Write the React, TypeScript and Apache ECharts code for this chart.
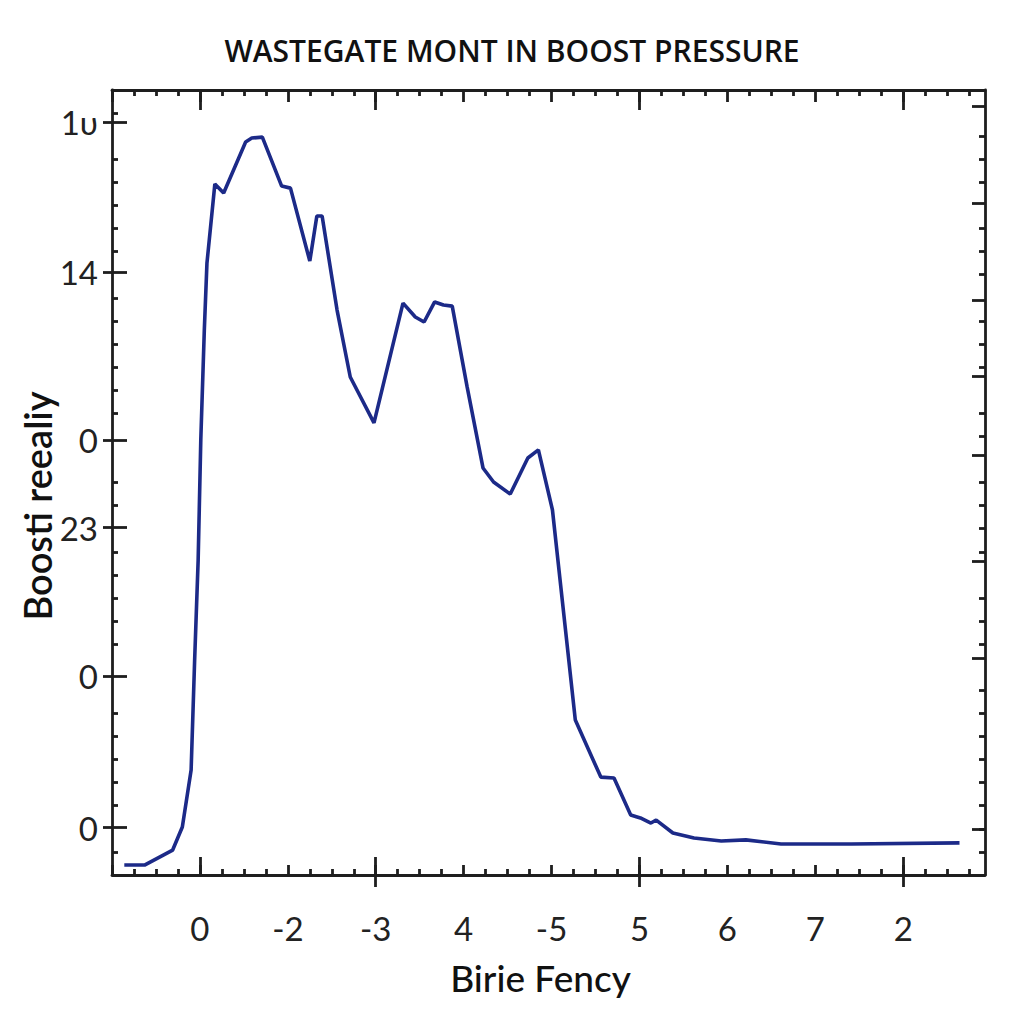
import React, { useEffect, useRef } from "react";
import * as echarts from "echarts";

const titleText = "WASTEGATE MONT IN BOOST PRESSURE";
const xAxisTitle = "Birie Fency";
const yAxisTitle = "Boosti reealiy";

// x tick labels, placed at axis positions 0..8
const xTickLabels = ["0", "-2", "-3", "4", "-5", "5", "6", "7", "2"];
// y tick labels and their positions on the axis
const yTickLabels = ["1υ", "14", "0", "23", "0", "0"];
const yTickValues = [32.6, 26.1, 18.85, 15.05, 8.6, 2.05];

// curve (x position, y value)
const curveX = [
  -0.86, -0.63, -0.31, -0.2, -0.1, -0.06, -0.02, 0.01, 0.05, 0.08, 0.17, 0.27,
  0.52, 0.59, 0.71, 0.93, 1.03, 1.25, 1.33, 1.39, 1.56, 1.71, 1.98, 2.31, 2.45,
  2.55, 2.67, 2.77, 2.87, 3.04, 3.22, 3.34, 3.53, 3.73, 3.85, 4.01, 4.27, 4.56,
  4.71, 4.9, 5.01, 5.13, 5.19, 5.38, 5.62, 5.93, 6.21, 6.61, 7.41, 8.64,
];
const curveY = [
  0.43, 0.43, 1.08, 2.08, 4.55, 9.31, 13.64, 18.84, 23.6, 26.5, 29.93, 29.54,
  31.75, 31.92, 31.96, 29.84, 29.75, 26.59, 28.54, 28.54, 24.47, 21.57, 19.58,
  24.77, 24.17, 23.95, 24.82, 24.69, 24.64, 21.13, 17.63, 17.02, 16.5, 18.06,
  18.41, 15.81, 6.71, 4.24, 4.2, 2.6, 2.47, 2.25, 2.38, 1.82, 1.6, 1.47, 1.52,
  1.34, 1.34, 1.39,
];

// tick positions (axis decoration only)
const xMajorTicks = [-1, 0, 1, 2, 3, 4, 5, 6, 7, 8];
const xMinorTicks = [
  -0.75, -0.5, -0.25, 0.25, 0.5, 0.75, 1.25, 1.5, 1.75, 2.25, 2.5, 2.75, 3.25,
  3.5, 3.75, 4.25, 4.5, 4.75, 5.25, 5.5, 5.75, 6.25, 6.5, 6.75, 7.25, 7.5, 7.75,
  8.25, 8.5, 8.75,
];
const xLongTicks = [0, 2, 5, 8];
const xCrossTicks = [2, 5, 8];
const yMinorTicks = [
  1, 3, 4, 5, 6, 7, 10, 11, 12, 13, 14, 16, 17, 20, 21, 22, 23, 24, 25, 27, 28,
  29, 30, 31, 33,
];
const rightMinorTicks = [
  1, 2, 3, 4, 5, 6, 7, 8, 10, 11, 12, 14, 15, 16, 17, 19, 20, 22, 23, 24, 26,
  27, 28, 30, 31, 32,
];
const rightLongTicks = [33.3, 29.1, 24.9, 21.6, 18.2, 13.6, 9.4, 2.0];

const X_MIN = -1;
const X_MAX = 8.93;
const Y_MIN = 0;
const Y_MAX = 34;

const AX = "#1e1e1e";
const FONT = "Lato";
const TW = 2.8;

export default function App() {
  const ref = useRef<HTMLDivElement>(null);

  useEffect(() => {
    if (!ref.current) return;
    const chart = echarts.init(ref.current, undefined, { renderer: "svg" });

    const hiddenLine = () => ({ show: false, onZero: false });
    const shownLine = () => ({ show: true, onZero: false, lineStyle: { color: AX, width: 2.8 } });
    const tick = (values: number[], length: number, inside = true) => ({
      show: true,
      inside,
      length,
      customValues: values,
      lineStyle: { color: AX, width: TW },
    });

    const baseX = (extra: any) => ({
      type: "value",
      min: X_MIN,
      max: X_MAX,
      interval: 1,
      splitLine: { show: false },
      axisLabel: { show: false },
      axisLine: hiddenLine(),
      axisTick: { show: false },
      ...extra,
    });
    const baseY = (extra: any) => ({
      type: "value",
      min: Y_MIN,
      max: Y_MAX,
      interval: 1,
      splitLine: { show: false },
      axisLabel: { show: false },
      axisLine: hiddenLine(),
      axisTick: { show: false },
      ...extra,
    });

    const data = curveX.map((x, i) => [x, curveY[i]]);

    chart.setOption({
      animation: false,
      backgroundColor: "#ffffff",
      title: {
        text: titleText,
        left: "center",
        top: 30,
        textStyle: {
          fontFamily: "Open Sans",
          fontSize: 30,
          fontWeight: 600,
          color: "#111",
        },
      },
      grid: { left: 112, right: 39, top: 90, bottom: 149, containLabel: false },
      xAxis: [
        baseX({
          position: "bottom",
          name: xAxisTitle,
          nameLocation: "middle",
          nameGap: 84,
          nameTextStyle: {
            fontFamily: FONT,
            fontSize: 37,
            fontWeight: 500,
            color: "#111",
            padding: [0, 16, 0, 0],
          },
          axisLine: shownLine(),
          axisTick: tick(xMajorTicks, 10),
          axisLabel: {
            show: true,
            margin: 36,
            fontFamily: FONT,
            fontSize: 33,
            color: "#222",
            formatter: (v: number) => {
              const i = Math.round(v);
              return i >= 0 && i < xTickLabels.length ? xTickLabels[i] : "";
            },
          },
        }),
        baseX({ position: "bottom", axisTick: tick(xMinorTicks, 6) }),
        baseX({ position: "bottom", axisTick: tick(xLongTicks, 18) }),
        baseX({ position: "bottom", axisTick: tick(xCrossTicks, 12, false) }),
        baseX({ position: "top", axisLine: shownLine(), axisTick: tick(xMajorTicks, 12) }),
        baseX({ position: "top", axisTick: tick(xMinorTicks, 6) }),
        baseX({ position: "top", axisTick: tick(xLongTicks, 20) }),
      ],
      yAxis: [
        baseY({
          position: "left",
          axisLine: shownLine(),
          axisTick: tick(yTickValues, 9, false),
          axisLabel: {
            show: true,
            customValues: yTickValues,
            margin: 14,
            fontFamily: FONT,
            fontSize: 33,
            color: "#222",
            formatter: (v: number) => {
              let best = 0;
              for (let i = 0; i < yTickValues.length; i++) {
                if (Math.abs(yTickValues[i] - v) < Math.abs(yTickValues[best] - v)) best = i;
              }
              return yTickLabels[best];
            },
          },
        }),
        baseY({ position: "left", axisTick: tick(yMinorTicks, 6) }),
        baseY({ position: "left", axisTick: tick(yTickValues, 15) }),
        baseY({ position: "right", axisLine: shownLine(), axisTick: tick(rightMinorTicks, 6) }),
        baseY({ position: "right", axisTick: tick(rightLongTicks, 13) }),
      ],
      graphic: [
        {
          type: "text",
          x: 37,
          y: 506,
          rotation: Math.PI / 2,
          style: {
            text: yAxisTitle,
            fontFamily: FONT,
            fontSize: 38,
            fontWeight: 600,
            fill: "#111",
            textAlign: "center",
            textVerticalAlign: "middle",
          },
        },
      ],
      series: [
        {
          type: "line",
          xAxisIndex: 0,
          yAxisIndex: 0,
          data,
          showSymbol: false,
          symbol: "none",
          lineStyle: { color: "#1c2a88", width: 3.6 },
          clip: true,
        },
      ],
    });

    return () => chart.dispose();
  }, []);

  return (
    <div
      ref={ref}
      style={{ position: "fixed", left: 0, top: 0, width: 1024, height: 1024 }}
    />
  );
}
